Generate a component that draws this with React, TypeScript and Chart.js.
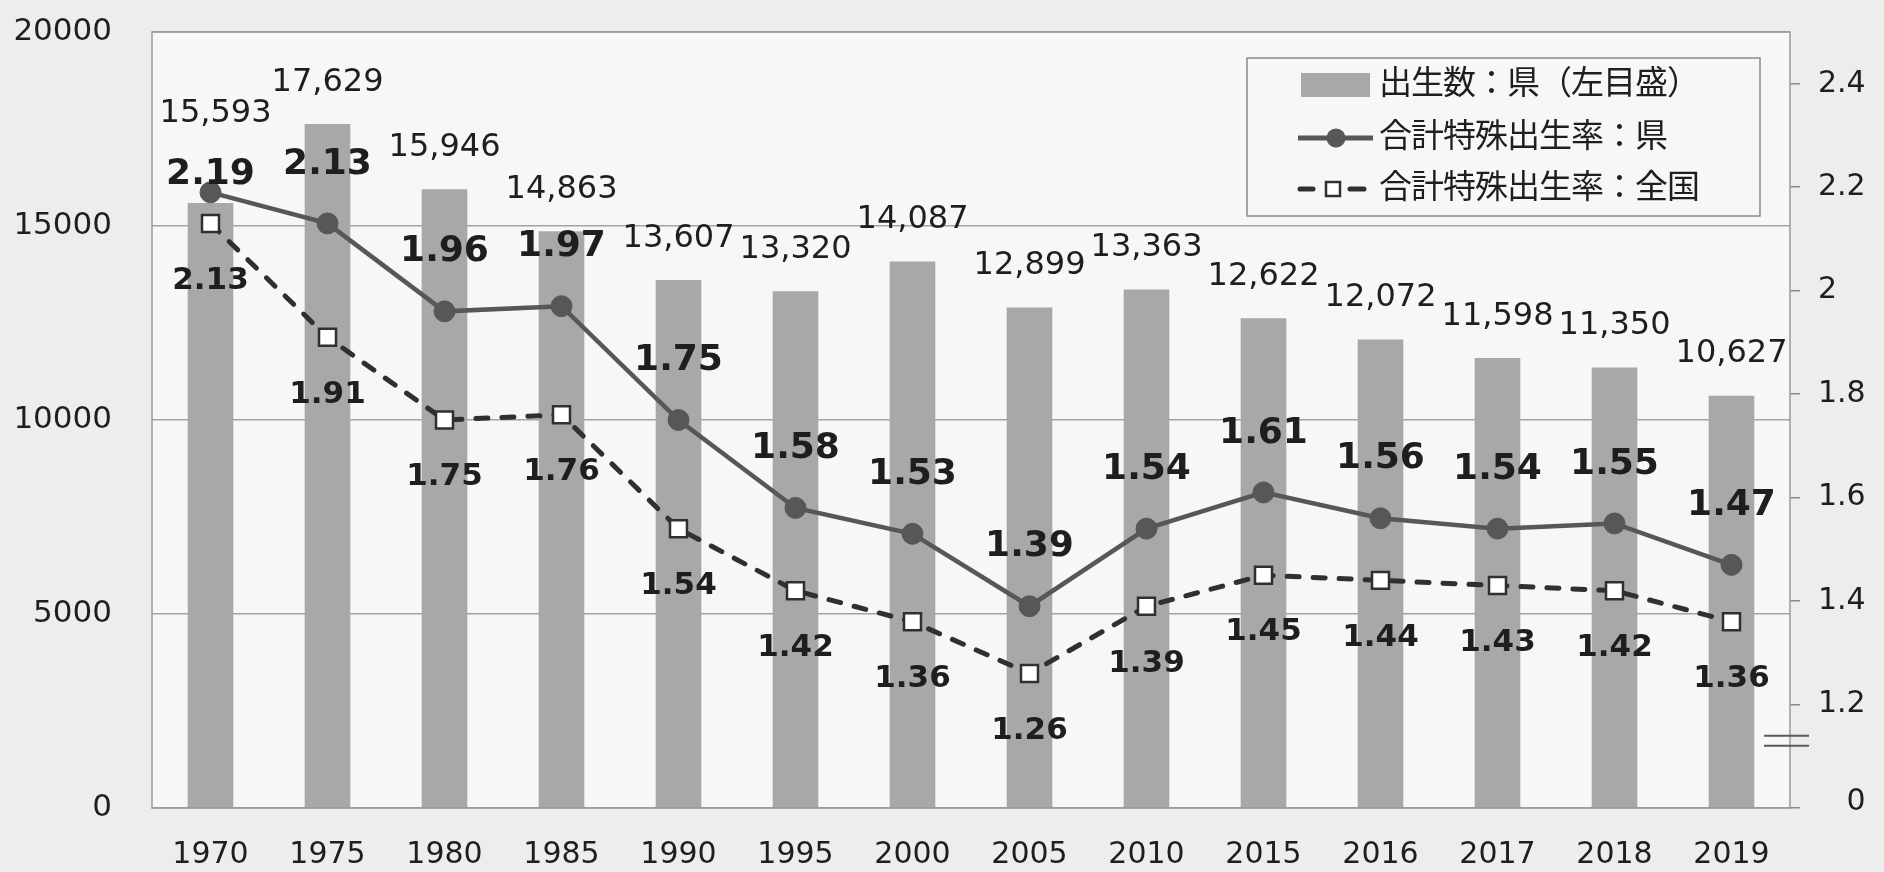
import React, { useEffect, useRef } from 'react';
import { Chart, registerables } from 'chart.js';

Chart.register(...registerables);

// Survey years on the category axis
const years = ['1970', '1975', '1980', '1985', '1990', '1995', '2000', '2005', '2010', '2015', '2016', '2017', '2018', '2019'];
// Number of births in the prefecture (left axis)
const births = [15593, 17629, 15946, 14863, 13607, 13320, 14087, 12899, 13363, 12622, 12072, 11598, 11350, 10627];
// Total fertility rate, prefecture (right axis)
const tfrPrefecture = [2.19, 2.13, 1.96, 1.97, 1.75, 1.58, 1.53, 1.39, 1.54, 1.61, 1.56, 1.54, 1.55, 1.47];
// Total fertility rate, whole country (right axis)
const tfrNational = [2.13, 1.91, 1.75, 1.76, 1.54, 1.42, 1.36, 1.26, 1.39, 1.45, 1.44, 1.43, 1.42, 1.36];
// Left axis ticks
const birthTicks = [0, 5000, 10000, 15000, 20000];
// Right axis ticks: the axis is broken below 1.2, so its floor (1.0) is labelled "0"
const rateTickValues = [1.0, 1.2, 1.4, 1.6, 1.8, 2.0, 2.2, 2.4];
const rateTickLabels = ['0', '1.2', '1.4', '1.6', '1.8', '2', '2.2', '2.4'];
const legendLabels = ['出生数：県（左目盛）', '合計特殊出生率：県', '合計特殊出生率：全国'];

const PAGE_BG = '#ededeb';
const PLOT_BG = '#f7f7f5';
const BAR = '#a8a8a8';
const GRID = '#a3a3a3';
const PREF = '#575757';
const NAT = '#303030';
const TEXT = '#1e1e1e';
const LATIN = "'DejaVu Sans', 'Noto Sans CJK JP', sans-serif";
const CJK = "'Noto Sans CJK JP', 'DejaVu Sans', sans-serif";

// Vertical distance from a mark to the centre of its value label
const BAR_LABEL_LIFT = 45;
const barLabelNudge: Record<number, { dx: number; lift: number }> = { 0: { dx: 5, lift: 93 } };
const PREF_LABEL_LIFT = 63;
const prefLabelNudge: Record<number, number> = { 0: 21 };
const NAT_LABEL_DROP = 54;
const RATE_TICK_PAD = 18;

function drawCentered(ctx: CanvasRenderingContext2D, text: string, x: number, cy: number, size: number, weight: string) {
  ctx.font = `${weight} ${size}px ${LATIN}`;
  ctx.textAlign = 'center';
  ctx.textBaseline = 'alphabetic';
  ctx.fillStyle = TEXT;
  ctx.fillText(text, x, cy + size * 0.364);
}

const backgroundPlugin = {
  id: 'paperBackground',
  beforeDraw(chart: any) {
    const { ctx, width, height, chartArea: a } = chart;
    ctx.save();
    ctx.fillStyle = PAGE_BG;
    ctx.fillRect(0, 0, width, height);
    ctx.fillStyle = PLOT_BG;
    ctx.fillRect(a.left, a.top, a.right - a.left, a.bottom - a.top);
    ctx.restore();
  },
};

const valueLabelPlugin = {
  id: 'valueLabels',
  afterDatasetsDraw(chart: any) {
    const { ctx } = chart;
    ctx.save();
    const prefMeta = chart.getDatasetMeta(0);
    const natMeta = chart.getDatasetMeta(1);
    const barMeta = chart.getDatasetMeta(2);
    barMeta.data.forEach((bar: any, i: number) => {
      const n = barLabelNudge[i] || { dx: 0, lift: BAR_LABEL_LIFT };
      drawCentered(ctx, births[i].toLocaleString('en-US'), bar.x + n.dx, bar.y - n.lift, 32, 'normal');
    });
    prefMeta.data.forEach((pt: any, i: number) => {
      const lift = prefLabelNudge[i] ?? PREF_LABEL_LIFT;
      drawCentered(ctx, tfrPrefecture[i].toFixed(2), pt.x, pt.y - lift, 36, 'bold');
    });
    natMeta.data.forEach((pt: any, i: number) => {
      drawCentered(ctx, tfrNational[i].toFixed(2), pt.x, pt.y + NAT_LABEL_DROP, 31, 'bold');
    });
    ctx.restore();
  },
};

const framePlugin = {
  id: 'frameLegendBreak',
  afterDraw(chart: any) {
    const { ctx, chartArea: a } = chart;
    const rate = chart.scales.yRate;
    ctx.save();

    // plot frame
    ctx.strokeStyle = '#9a9a9a';
    ctx.lineWidth = 1.5;
    ctx.strokeRect(a.left, a.top, a.right - a.left, a.bottom - a.top);

    // "0" at the floor of the broken right axis, right-aligned with the other labels
    ctx.font = `normal 30px ${LATIN}`;
    const labelRight = rate.left + 10 + RATE_TICK_PAD + ctx.measureText(rateTickLabels[1]).width;
    ctx.textAlign = 'right';
    ctx.textBaseline = 'middle';
    ctx.fillStyle = TEXT;
    ctx.fillText(rateTickLabels[0], labelRight, rate.getPixelForValue(rateTickValues[0]) - 6);

    // axis break symbol
    const by = rate.getPixelForValue(1.13);
    ctx.strokeStyle = '#5a5a5a';
    ctx.lineWidth = 2;
    [by - 5, by + 5].forEach((y) => {
      ctx.beginPath();
      ctx.moveTo(a.right - 26, y);
      ctx.lineTo(a.right + 19, y);
      ctx.stroke();
    });

    // legend
    const lx = 1247, ly = 58, lw = 513, lh = 158;
    ctx.fillStyle = PLOT_BG;
    ctx.fillRect(lx, ly, lw, lh);
    ctx.strokeStyle = '#8a8a8a';
    ctx.lineWidth = 1.5;
    ctx.strokeRect(lx, ly, lw, lh);

    const rows = [85, 138, 189];
    ctx.fillStyle = BAR;
    ctx.fillRect(1301, rows[0] - 12, 69, 24);

    ctx.strokeStyle = PREF;
    ctx.lineWidth = 5;
    ctx.beginPath();
    ctx.moveTo(1298, rows[1]);
    ctx.lineTo(1373, rows[1]);
    ctx.stroke();
    ctx.fillStyle = PREF;
    ctx.beginPath();
    ctx.arc(1336, rows[1], 9.5, 0, Math.PI * 2);
    ctx.fill();

    ctx.strokeStyle = NAT;
    ctx.lineCap = 'round';
    ctx.beginPath();
    ctx.moveTo(1300, rows[2]);
    ctx.lineTo(1313, rows[2]);
    ctx.moveTo(1350, rows[2]);
    ctx.lineTo(1364, rows[2]);
    ctx.stroke();
    ctx.lineCap = 'butt';
    ctx.fillStyle = '#ffffff';
    ctx.fillRect(1326, rows[2] - 7, 14, 14);
    ctx.lineWidth = 2.5;
    ctx.strokeRect(1326, rows[2] - 7, 14, 14);

    ctx.font = `normal 33px ${CJK}`;
    (ctx as any).letterSpacing = '-1px';
    ctx.fillStyle = TEXT;
    ctx.textAlign = 'left';
    ctx.textBaseline = 'middle';
    legendLabels.forEach((t, i) => ctx.fillText(t, 1379, rows[i] - 4));

    ctx.restore();
  },
};

// Drop the extra label padding that Chart.js reserves above/below vertical axes
const trimVerticalPadding = (s: any) => {
  s.paddingTop = 0;
  s.paddingBottom = 0;
};

export default function App() {
  const canvasRef = useRef<HTMLCanvasElement>(null);

  useEffect(() => {
    const canvas = canvasRef.current;
    if (!canvas) return;
    const chart = new Chart(canvas, {
      type: 'bar',
      data: {
        labels: years,
        datasets: [
          {
            type: 'line',
            label: legendLabels[1],
            data: tfrPrefecture,
            yAxisID: 'yRate',
            borderColor: PREF,
            backgroundColor: PREF,
            borderWidth: 4.5,
            pointStyle: 'circle',
            pointRadius: 10.5,
            pointBackgroundColor: PREF,
            pointBorderColor: PREF,
            pointBorderWidth: 1,
            order: 1,
          },
          {
            type: 'line',
            label: legendLabels[2],
            data: tfrNational,
            yAxisID: 'yRate',
            borderColor: NAT,
            backgroundColor: '#ffffff',
            borderWidth: 5,
            borderDash: [12, 14],
            borderCapStyle: 'round',
            pointStyle: 'rect',
            pointRadius: 12,
            pointBackgroundColor: '#ffffff',
            pointBorderColor: NAT,
            pointBorderWidth: 2.5,
            order: 2,
          },
          {
            type: 'bar',
            label: legendLabels[0],
            data: births,
            yAxisID: 'yBirths',
            backgroundColor: BAR,
            barPercentage: 0.39,
            categoryPercentage: 1,
            order: 3,
          },
        ],
      } as any,
      options: {
        responsive: false,
        animation: false,
        events: [],
        layout: { padding: { top: 32, left: 0, right: 0, bottom: 0 } },
        plugins: { legend: { display: false }, tooltip: { enabled: false } },
        scales: {
          x: {
            grid: { display: false, drawTicks: false },
            border: { display: false },
            ticks: { color: TEXT, font: { family: LATIN, size: 30 }, padding: 29, maxRotation: 0, autoSkip: false },
            afterFit: (s: any) => { s.height = 64; },
          },
          yBirths: {
            position: 'left',
            min: 0,
            max: 20000,
            afterBuildTicks: (s: any) => { s.ticks = birthTicks.map((v) => ({ value: v })); },
            grid: { color: GRID, lineWidth: 1.5, drawTicks: false },
            border: { display: false },
            ticks: { color: TEXT, font: { family: LATIN, size: 31 }, padding: 40, callback: (v: any) => String(v) },
            afterFit: (s: any) => { s.width = 152; trimVerticalPadding(s); },
          },
          yRate: {
            position: 'right',
            min: 1.0,
            max: 2.5,
            afterBuildTicks: (s: any) => { s.ticks = rateTickValues.map((v) => ({ value: v })); },
            grid: { drawOnChartArea: false, drawTicks: true, tickLength: 10, tickColor: '#8a8a8a', lineWidth: 1.5 },
            border: { display: false },
            ticks: {
              color: TEXT,
              font: { family: LATIN, size: 30 },
              padding: RATE_TICK_PAD,
              callback: (v: any) => {
                const i = rateTickValues.findIndex((t) => Math.abs(t - v) < 1e-6);
                return i <= 0 ? '' : rateTickLabels[i];
              },
            },
            afterFit: (s: any) => { s.width = 94; trimVerticalPadding(s); },
          },
        },
      } as any,
      plugins: [backgroundPlugin, valueLabelPlugin, framePlugin],
    });
    return () => chart.destroy();
  }, []);

  return (
    <div style={{ position: 'fixed', left: 0, top: 0, width: 1884, height: 872, background: PAGE_BG }}>
      <canvas ref={canvasRef} width={1884} height={872} style={{ display: 'block', width: 1884, height: 872 }} />
    </div>
  );
}
